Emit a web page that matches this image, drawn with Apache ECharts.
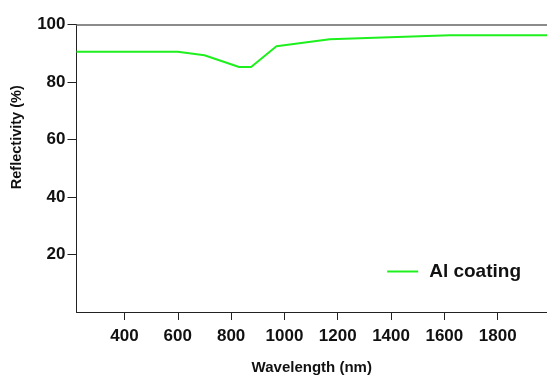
<!DOCTYPE html>
<html>
<head>
<meta charset="utf-8">
<script src="https://cdn.jsdelivr.net/npm/echarts@6/dist/echarts.min.js"></script>
<style>
  html, body { margin: 0; padding: 0; background: #fff; }
  #chart { width: 547px; height: 376px; }
</style>
</head>
<body>
<div id="chart"></div>
<script>
// values
var wavelengths = [220, 600, 700, 830, 875, 970, 1170, 1620, 1985];
var reflectivity = [90.5, 90.5, 89.3, 85.2, 85.2, 92.4, 94.9, 96.3, 96.3];
var xTicks = [400, 600, 800, 1000, 1200, 1400, 1600, 1800];
var yTicks = [20, 40, 60, 80, 100];
var seriesName = 'Al coating';

var points = wavelengths.map(function (w, i) { return [w, reflectivity[i]]; });

var font = '"Liberation Sans", Arial, Helvetica, sans-serif';
var myChart = echarts.init(document.getElementById('chart'));
var option = {
    animation: false,
    backgroundColor: '#fff',
    grid: { left: 76.5, top: 24.5, right: 0, bottom: 64, outerBoundsMode: 'none' },
    legend: {
        right: 21, top: 257,
        itemWidth: 31, itemHeight: 2, itemGap: 10,
        data: [{ name: seriesName, icon: 'rect' }],
        textStyle: { fontFamily: font, fontWeight: 'bold', fontSize: 19, color: '#111', padding: [0, 0, 0, 6] }
    },
    xAxis: [{
        type: 'value',
        min: 220, max: 1985,
        name: 'Wavelength (nm)',
        nameLocation: 'middle',
        nameGap: 48,
        nameTextStyle: { fontFamily: font, fontWeight: 'bold', fontSize: 15, color: '#111' },
        axisLine: { show: true, lineStyle: { color: '#222', width: 1 } },
        axisTick: { show: true, length: 8, inside: false, customValues: xTicks, lineStyle: { color: '#222' } },
        axisLabel: {
            customValues: xTicks, margin: 16, fontFamily: font, fontWeight: 'bold', fontSize: 17, color: '#111',
            formatter: function (v) { return String(v); }
        },
        splitLine: { show: false }
    }, {
        type: 'value',
        position: 'top',
        min: 220, max: 1985,
        axisLine: { show: true, onZero: false, lineStyle: { color: '#666', width: 1.5 } },
        axisTick: { show: false },
        axisLabel: { show: false },
        splitLine: { show: false }
    }],
    yAxis: {
        type: 'value',
        min: 0, max: 100,
        name: 'Reflectivity (%)',
        nameLocation: 'middle',
        nameGap: 52,
        nameTextStyle: { fontFamily: font, fontWeight: 'bold', fontSize: 14.5, color: '#111', padding: [0, 0, 0, 62] },
        axisLine: { show: true, lineStyle: { color: '#222', width: 1 } },
        axisTick: { show: true, length: 9, customValues: yTicks, lineStyle: { color: '#222' } },
        axisLabel: {
            customValues: yTicks, margin: 11, fontFamily: font, fontWeight: 'bold', fontSize: 17, color: '#111',
            formatter: function (v) { return String(v); }
        },
        splitLine: { show: false }
    },
    series: [{
        name: seriesName,
        type: 'line',
        xAxisIndex: 0,
        data: points,
        symbol: 'none',
        color: '#1ef01e',
        lineStyle: { color: '#1ef01e', width: 2 }
    }]
};
myChart.setOption(option);
</script>
</body>
</html>
